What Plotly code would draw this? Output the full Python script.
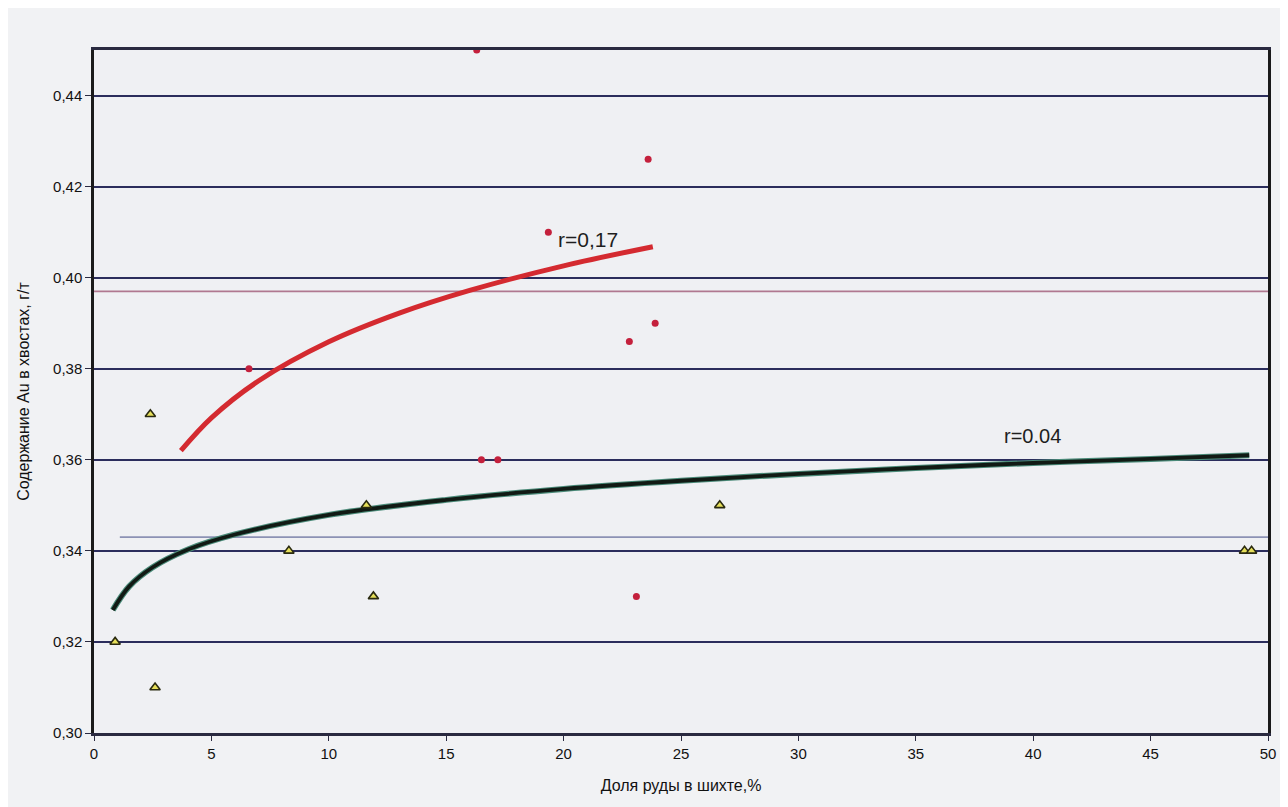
import plotly.graph_objects as go

# --- data ---
red_x = [16.3, 23.6, 19.35, 6.6, 22.8, 23.9, 16.5, 17.2, 23.1]
red_y = [0.450, 0.426, 0.410, 0.380, 0.386, 0.390, 0.360, 0.360, 0.330]

tri_x = [0.9, 2.4, 2.6, 8.3, 11.6, 11.9, 26.65, 49.0, 49.3]
tri_y = [0.320, 0.370, 0.310, 0.340, 0.350, 0.330, 0.350, 0.340, 0.340]

red_trend_x = [3.7, 5, 7, 10, 13, 16, 20, 23.8]
red_trend_y = [0.3620, 0.3692, 0.3773, 0.3859, 0.3922, 0.3972, 0.4026, 0.4068]

grn_trend_x = [0.8, 1.5, 2.5, 4, 6, 10, 15, 20, 25, 30, 35, 40, 45, 49.2]
grn_trend_y = [0.3270, 0.3322, 0.3364, 0.3403, 0.3436, 0.3479, 0.3512,
               0.3536, 0.3554, 0.3569, 0.3582, 0.3593, 0.3602, 0.3610]

red_mean_x = [0, 50]
red_mean_y = [0.397, 0.397]
tri_mean_x = [1.1, 50]
tri_mean_y = [0.343, 0.343]

y_ticks = [0.30, 0.32, 0.34, 0.36, 0.38, 0.40, 0.42, 0.44]
x_ticks = [0, 5, 10, 15, 20, 25, 30, 35, 40, 45, 50]

FONT = "Liberation Sans, Arial"

fig = go.Figure()

fig.add_trace(go.Scatter(x=red_mean_x, y=red_mean_y, mode="lines",
                         line=dict(color="#b07890", width=1.8), hoverinfo="skip"))
fig.add_trace(go.Scatter(x=tri_mean_x, y=tri_mean_y, mode="lines",
                         line=dict(color="#8c92b4", width=1.8), hoverinfo="skip"))

# green/black trend: greenish halo + dark core
fig.add_trace(go.Scatter(x=grn_trend_x, y=grn_trend_y, mode="lines",
                         line=dict(color="#4a8a78", width=6, shape="spline")))
fig.add_trace(go.Scatter(x=grn_trend_x, y=grn_trend_y, mode="lines",
                         line=dict(color="#111a14", width=3.8, shape="spline")))

fig.add_trace(go.Scatter(x=red_trend_x, y=red_trend_y, mode="lines",
                         line=dict(color="#d42a30", width=5, shape="spline")))

fig.add_trace(go.Scatter(x=red_x, y=red_y, mode="markers",
                         marker=dict(symbol="circle", size=7, color="#c4203c",
                                     line=dict(width=0))))
fig.add_trace(go.Scatter(x=tri_x, y=tri_y, mode="markers",
                         marker=dict(symbol="triangle-up", size=9, color="#e6df5a",
                                     line=dict(color="#2a2a10", width=1.6))))

fig.add_annotation(x=21.05, y=0.4083, text="r=0,17", showarrow=False,
                   font=dict(family=FONT, size=21, color="#1e1e1e"))
fig.add_annotation(x=39.95, y=0.3652, text="r=0.04", showarrow=False,
                   font=dict(family=FONT, size=20, color="#1e1e1e"))

fig.update_layout(
    width=1280, height=799,
    margin=dict(l=86, r=16, t=42, b=74),
    paper_bgcolor="#f1f2f4",
    plot_bgcolor="#eff0f3",
    showlegend=False,
    separators=", ",
    font=dict(family=FONT, size=14, color="#111111"),
)
fig.update_xaxes(range=[0, 50], tickvals=x_ticks, showgrid=False, zeroline=False,
                 showline=True, linecolor="#2a2a40", linewidth=2.5, mirror=True,
                 ticks="outside", ticklen=5, tickcolor="#2a2a40",
                 title=dict(text="Доля руды в шихте,%", font=dict(size=16), standoff=20),
                 tickfont=dict(size=15))
fig.update_yaxes(range=[0.30, 0.45], tickvals=y_ticks, tickformat=".2f",
                 showgrid=True, gridcolor="#2b2d5c", gridwidth=2, zeroline=False,
                 showline=True, linecolor="#1a1a1a", linewidth=2.5, mirror=True,
                 ticks="outside", ticklen=6, tickcolor="#2a2a40",
                 title=dict(text="Содержание Au в хвостах, г/т", font=dict(size=16), standoff=20),
                 tickfont=dict(size=15))

fig.write_html("out.html")
